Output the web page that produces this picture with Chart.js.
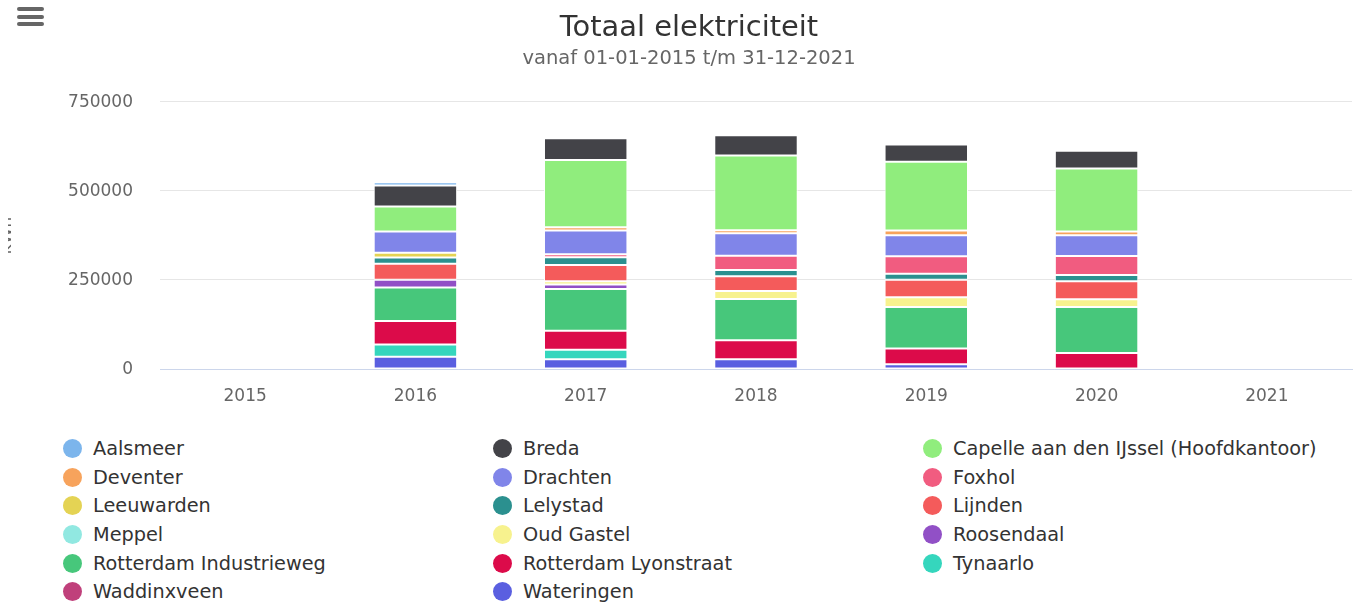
<!DOCTYPE html>
<html>
<head>
<meta charset="utf-8">
<script src="https://cdn.jsdelivr.net/npm/chart.js@4.4.1/dist/chart.umd.min.js"></script>
<style>
html, body { margin: 0; padding: 0; background: #fff; overflow: hidden; width: 1359px; height: 608px; }
body { position: relative; font-family: "DejaVu Sans", Verdana, sans-serif; }
#clip { position: absolute; left: 8px; top: 0; width: 1351px; height: 420px; overflow: hidden; }
#wrap { position: absolute; left: -19px; top: 0; width: 1400px; height: 420px; }
#menu { position: absolute; left: 17px; top: 7px; width: 27px; }
#menu span { display: block; height: 4px; background: #666; border-radius: 2px; margin-bottom: 3.7px; }
#legend { position: absolute; left: 63px; top: 434px; display: grid; grid-template-columns: repeat(3, 430px); }
.item { display: flex; align-items: center; height: 28.7px; font-size: 19.3px; color: #333; white-space: nowrap; }
.dot { width: 19px; height: 19px; border-radius: 50%; margin-right: 11px; flex: none; }
</style>
</head>
<body>
<div id="clip"><div id="wrap"><canvas id="chart"></canvas></div></div>
<div id="menu"><span></span><span></span><span></span></div>
<div id="legend"></div>
<script>
// jaren (categorieen)
const years = ['2015', '2016', '2017', '2018', '2019', '2020', '2021'];
const yTicks = [0, 250000, 500000, 750000];

// verbruik per locatie in kWh
const aalsmeer      = [0, 9000, 0, 0, 0, 0, 0];
const breda         = [0, 59600, 61600, 57100, 48400, 49500, 0];
const capelle       = [0, 70000, 188600, 209900, 193100, 177100, 0];
const deventer      = [0, 0, 9200, 8400, 13100, 10400, 0];
const drachten      = [0, 59600, 66300, 63200, 58800, 58800, 0];
const foxhol        = [0, 0, 8400, 40300, 49300, 53200, 0];
const leeuwarden    = [0, 13100, 0, 0, 0, 0, 0];
const lelystad      = [0, 17600, 22400, 17600, 16800, 17600, 0];
const lijnden       = [0, 44800, 45600, 41100, 49500, 50400, 0];
const meppel        = [0, 0, 0, 0, 0, 0, 0];
const oudGastel     = [0, 0, 9200, 22400, 27100, 21500, 0];
const roosendaal    = [0, 22400, 12300, 0, 0, 0, 0];
const industrieweg  = [0, 93500, 117500, 115600, 116400, 129600, 0];
const lyonstraat    = [0, 66000, 53200, 54000, 44800, 44800, 0];
const tynaarlo      = [0, 34700, 26900, 0, 0, 0, 0];
const waddinxveen   = [0, 0, 0, 0, 0, 0, 0];
const wateringen    = [0, 34400, 27100, 27100, 13100, 0, 0];

// legenda volgorde (alfabetisch)
const series = [
    { label: 'Aalsmeer', color: '#7cb5ec', data: aalsmeer },
    { label: 'Breda', color: '#434348', data: breda },
    { label: 'Capelle aan den IJssel (Hoofdkantoor)', color: '#90ed7d', data: capelle },
    { label: 'Deventer', color: '#f7a35c', data: deventer },
    { label: 'Drachten', color: '#8085e9', data: drachten },
    { label: 'Foxhol', color: '#f15c80', data: foxhol },
    { label: 'Leeuwarden', color: '#e4d354', data: leeuwarden },
    { label: 'Lelystad', color: '#2b908f', data: lelystad },
    { label: 'Lijnden', color: '#f45b5b', data: lijnden },
    { label: 'Meppel', color: '#91e8e1', data: meppel },
    { label: 'Oud Gastel', color: '#f7f28e', data: oudGastel },
    { label: 'Roosendaal', color: '#9150c6', data: roosendaal },
    { label: 'Rotterdam Industrieweg', color: '#47c77b', data: industrieweg },
    { label: 'Rotterdam Lyonstraat', color: '#dc0b4a', data: lyonstraat },
    { label: 'Tynaarlo', color: '#35d6bd', data: tynaarlo },
    { label: 'Waddinxveen', color: '#c0407b', data: waddinxveen },
    { label: 'Wateringen', color: '#5a5fe0', data: wateringen }
];

// eerste dataset ligt onderaan de stapel, dus omgekeerd
const datasets = series.slice().reverse().map(s => ({
    label: s.label,
    data: s.data,
    backgroundColor: s.color,
    borderColor: '#ffffff',
    borderWidth: 1,
    borderSkipped: false,
    barPercentage: 0.7,
    categoryPercentage: 0.7
}));

Chart.defaults.font.family = '"DejaVu Sans", Verdana, sans-serif';

const ctx = document.getElementById('chart').getContext('2d');
const chart = new Chart(ctx, {
    type: 'bar',
    data: { labels: years, datasets: datasets },
    options: {
        responsive: true,
        maintainAspectRatio: false,
        animation: false,
        plugins: {
            legend: { display: false },
            tooltip: { enabled: false },
            title: {
                display: true,
                text: 'Totaal elektriciteit',
                color: '#333333',
                font: { size: 28.9, weight: 'normal' },
                padding: { top: 11, bottom: 0 }
            },
            subtitle: {
                display: true,
                text: 'vanaf 01-01-2015 t/m 31-12-2021',
                color: '#666666',
                font: { size: 19.5 },
                padding: { top: 1.4, bottom: 31.5 }
            }
        },
        scales: {
            x: {
                stacked: true,
                grid: { display: false },
                border: { display: true, color: '#ccd6eb' },
                ticks: { color: '#666666', font: { size: 17 }, padding: 9 },
                afterFit: function (scale) { scale.height = 51; }
            },
            y: {
                stacked: true,
                min: 0,
                max: 750000,
                afterBuildTicks: function (scale) {
                    scale.ticks = yTicks.map(v => ({ value: v }));
                },
                grid: { color: '#e6e6e6', drawTicks: false },
                border: { display: false },
                ticks: {
                    color: '#666666',
                    font: { size: 17 },
                    padding: 27,
                    labelOffset: 1,
                    callback: function (value) { return String(value); }
                },
                title: {
                    display: true,
                    text: 'kWh',
                    color: '#666666',
                    font: { size: 17 },
                    padding: { top: 7, bottom: 0 }
                },
                afterFit: function (scale) { scale.width = 171; }
            },
            // lege as rechts als marge, zodat de titel gecentreerd blijft
            rechts: {
                type: 'linear',
                position: 'right',
                display: true,
                grid: { display: false },
                border: { display: false },
                ticks: { display: false },
                afterFit: function (scale) { scale.width = 37; }
            }
        }
    }
});

// html legenda in drie kolommen
const legend = document.getElementById('legend');
series.forEach(s => {
    const item = document.createElement('div');
    item.className = 'item';
    const dot = document.createElement('span');
    dot.className = 'dot';
    dot.style.background = s.color;
    item.appendChild(dot);
    item.appendChild(document.createTextNode(s.label));
    legend.appendChild(item);
});
</script>
</body>
</html>
